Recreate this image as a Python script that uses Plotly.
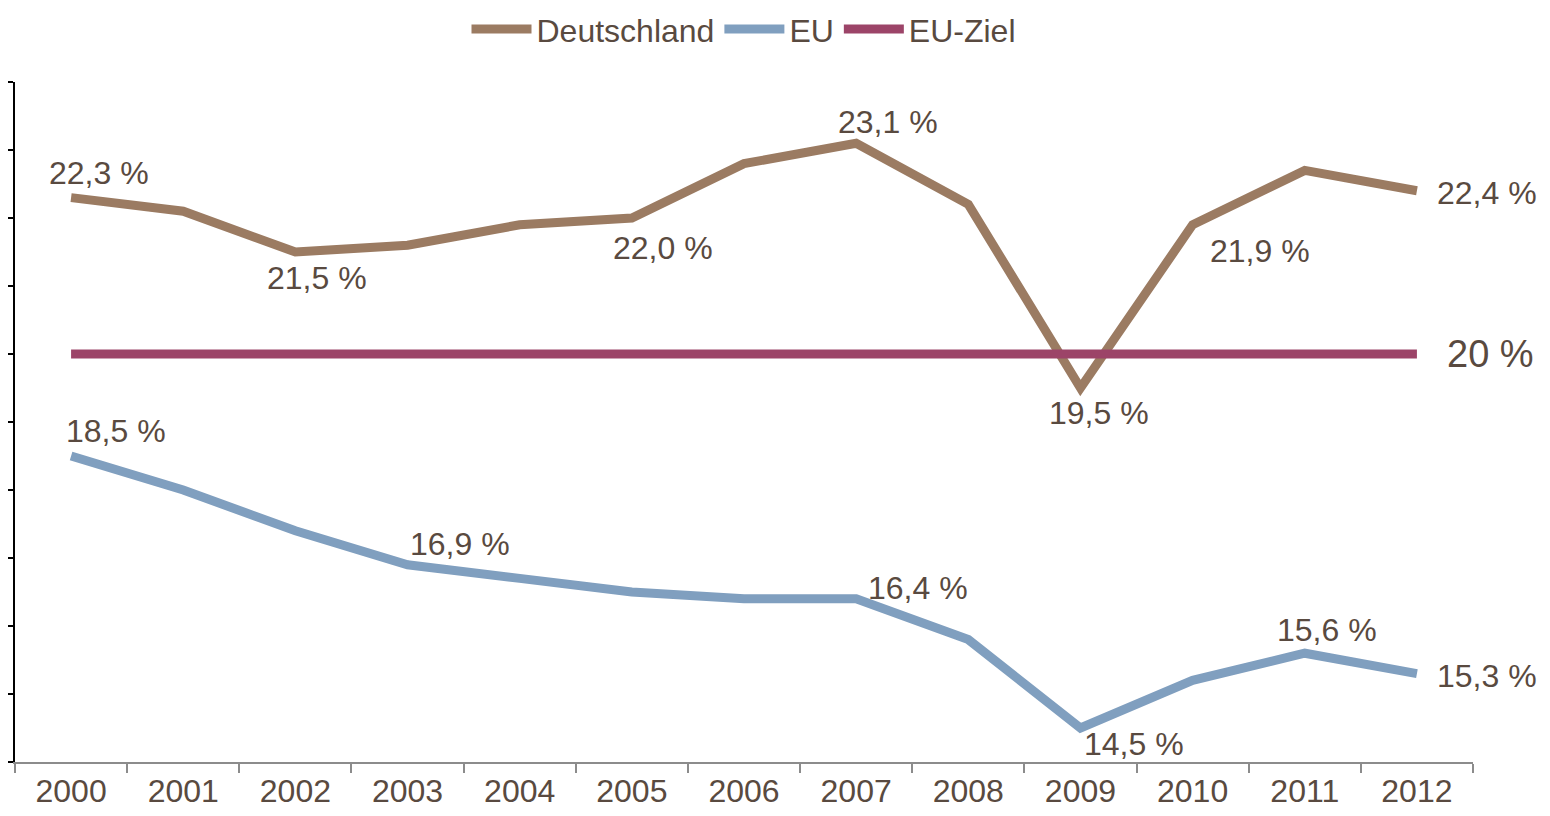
import plotly.graph_objects as go

# Daten
jahre = ["2000", "2001", "2002", "2003", "2004", "2005", "2006",
         "2007", "2008", "2009", "2010", "2011", "2012"]
deutschland = [22.3, 22.1, 21.5, 21.6, 21.9, 22.0, 22.8, 23.1, 22.2, 19.5, 21.9, 22.7, 22.4]
eu = [18.5, 18.0, 17.4, 16.9, 16.7, 16.5, 16.4, 16.4, 15.8, 14.5, 15.2, 15.6, 15.3]
eu_ziel = [20.0, 20.0, 20.0, 20.0, 20.0, 20.0, 20.0, 20.0, 20.0, 20.0, 20.0, 20.0, 20.0]

# Beschriftete Punkte: Index -> Versatz (x, y) in Pixel
de_labels = {0: (28, 25), 2: (22, -26), 5: (31, -30), 7: (32, 21),
             9: (19, -25), 10: (67, -26), 12: (70, -2)}
eu_labels = {0: (45, 25), 3: (52, 21), 7: (62, 11), 9: (54, -16),
             11: (22, 23), 12: (70, -2)}

TEXT = "#594a40"
FONT = "Liberation Sans, Arial, sans-serif"

fig = go.Figure()

for name, werte, farbe in [
    ("Deutschland", deutschland, "#9b7b62"),
    ("EU", eu, "#809fbf"),
    ("EU-Ziel", eu_ziel, "#9c4468"),
]:
    fig.add_trace(
        go.Scatter(
            x=jahre,
            y=werte,
            mode="lines",
            name=name,
            line=dict(color=farbe, width=9),
        )
    )


def fmt(v):
    return f"{v:.1f}".replace(".", ",") + " %"


# Kategorie-Index statt "2000" (sonst als Zahl interpretiert)
for werte, labels in [(deutschland, de_labels), (eu, eu_labels)]:
    for i, (dx, dy) in labels.items():
        fig.add_annotation(
            x=i, y=werte[i], text=fmt(werte[i]),
            showarrow=False, xanchor="center", yanchor="middle",
            xshift=dx, yshift=dy,
            font=dict(size=32, color=TEXT, family=FONT),
        )

fig.add_annotation(
    x=len(jahre) - 1, y=eu_ziel[-1], text=f"{eu_ziel[-1]:.0f} %",
    showarrow=False, xanchor="center", yanchor="middle",
    xshift=74, yshift=0,
    font=dict(size=38, color=TEXT, family=FONT),
)

# 1534x800 + 8px Body-Rand = 1550x816 Fenster
fig.update_layout(
    width=1534,
    height=800,
    paper_bgcolor="white",
    plot_bgcolor="white",
    font=dict(family=FONT, size=32, color=TEXT),
    margin=dict(l=7, r=69, t=74, b=46, autoexpand=False),
    showlegend=True,
    legend=dict(
        orientation="h",
        yanchor="top",
        y=1.118,
        xanchor="center",
        x=0.5,
        font=dict(size=32, color=TEXT),
        itemwidth=60,
    ),
)

fig.update_xaxes(
    type="category",
    range=[-0.5, 12.5],
    showgrid=False,
    showline=True,
    linecolor="#8c8c8c",
    linewidth=2,
    ticks="outside",
    tickson="boundaries",
    ticklen=9,
    tickcolor="#8c8c8c",
    tickwidth=2,
    tickfont=dict(size=32, color=TEXT),
    zeroline=False,
)

fig.update_yaxes(
    range=[14, 24],
    dtick=1,
    showgrid=False,
    showline=True,
    linecolor="black",
    linewidth=2,
    ticks="outside",
    ticklen=8,
    tickcolor="black",
    tickwidth=2,
    showticklabels=False,
    zeroline=False,
)

fig.write_html("out.html")
